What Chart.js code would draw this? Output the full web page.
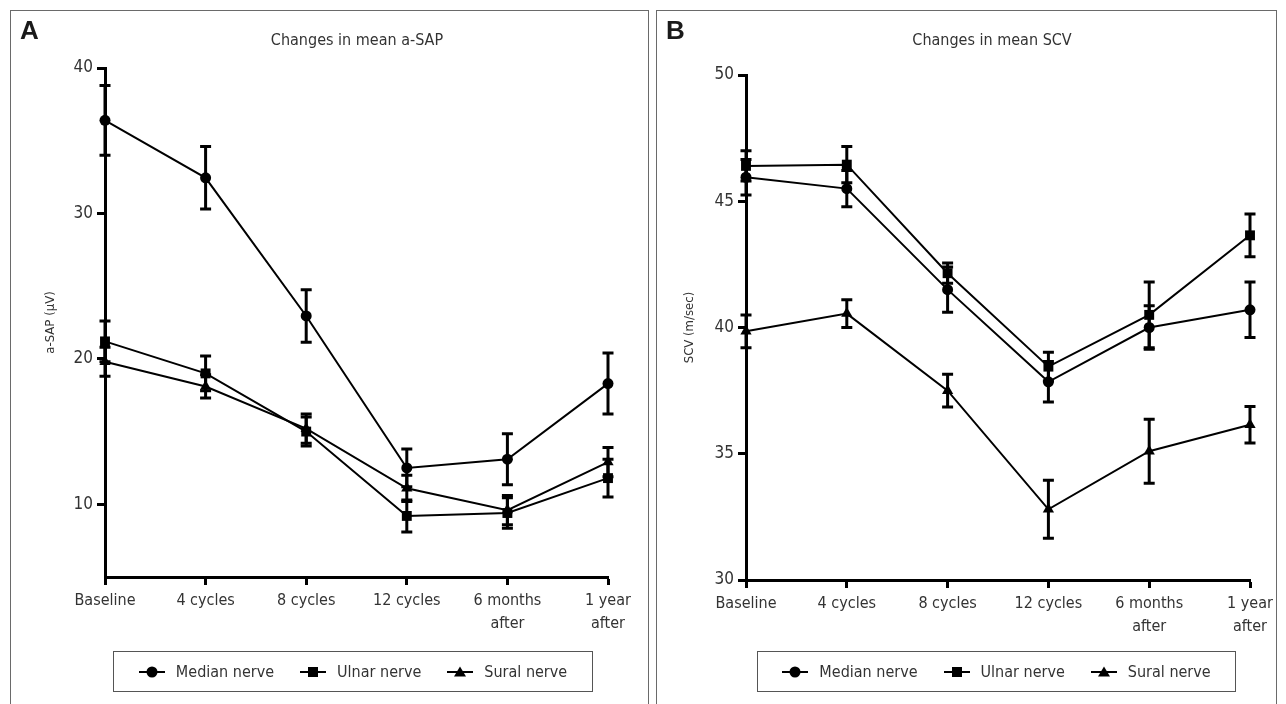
<!DOCTYPE html>
<html><head><meta charset="utf-8">
<script src="https://cdn.jsdelivr.net/npm/chart.js@4.4.0/dist/chart.umd.min.js"></script>
<style>
html,body{margin:0;padding:0;background:#fff;}
body{width:1286px;height:704px;position:relative;overflow:hidden;font-family:"DejaVu Sans Condensed","Liberation Sans",sans-serif;color:#333;}
.panel{position:absolute;top:10px;height:720px;border:1px solid #6a6a6a;box-sizing:border-box;pointer-events:none;}
#boxA{left:10px;width:639px;}
#boxB{left:656px;width:621px;}
.letter{position:absolute;font:bold 26px "Liberation Sans",Arial,sans-serif;line-height:1;color:#1a1a1a;}
.title{position:absolute;font-size:16px;line-height:1;color:#333;white-space:nowrap;transform:translateX(-50%);}
.cw{position:absolute;top:0;height:704px;}
.legend{position:absolute;top:651px;height:41px;border:1px solid #555;box-sizing:border-box;display:flex;align-items:center;justify-content:center;font-size:16px;color:#333;background:#fff;white-space:nowrap;}
.item{display:flex;align-items:center;margin:0 13px;white-space:nowrap;}
.item svg{margin-right:11px;}
</style></head>
<body>
<div class="cw" style="left:0;width:648px;"><canvas id="cA" width="648" height="704"></canvas></div>
<div class="cw" style="left:656px;width:630px;"><canvas id="cB" width="630" height="704"></canvas></div>
<div class="panel" id="boxA"></div>
<div class="panel" id="boxB"></div>
<div class="letter" style="left:20px;top:17px;">A</div>
<div class="letter" style="left:666px;top:17px;">B</div>
<div class="title" id="tA" style="left:357px;top:32px;"></div>
<div class="title" id="tB" style="left:992px;top:32px;"></div>
<div class="legend" id="lA" style="left:113px;width:480px;"></div>
<div class="legend" id="lB" style="left:757px;width:479px;"></div>
<script>
// ---------- data ----------
const categories = ['Baseline', '4 cycles', '8 cycles', '12 cycles', ['6 months', 'after'], ['1 year', 'after']];
const seriesNames = ['Median nerve', 'Ulnar nerve', 'Sural nerve'];
const markerStyles = ['circle', 'rect', 'triangle'];

const sapMedian    = [36.4, 32.45, 22.95, 12.5, 13.1, 18.3];
const sapMedianErr = [2.4, 2.15, 1.8, 1.3, 1.75, 2.1];
const sapUlnar     = [21.2, 19.0, 15.0, 9.2, 9.4, 11.8];
const sapUlnarErr  = [1.4, 1.2, 1.0, 1.1, 1.05, 1.3];
const sapSural     = [19.8, 18.1, 15.2, 11.1, 9.6, 12.9];
const sapSuralErr  = [1.0, 0.8, 1.0, 0.9, 1.0, 1.0];

const scvMedian    = [45.95, 45.5, 41.5, 37.85, 40.0, 40.7];
const scvMedianErr = [0.7, 0.72, 0.9, 0.8, 0.86, 1.1];
const scvUlnar     = [46.4, 46.45, 42.15, 38.45, 40.5, 43.65];
const scvUlnarErr  = [0.6, 0.72, 0.4, 0.57, 1.3, 0.85];
const scvSural     = [39.85, 40.55, 37.5, 32.8, 35.1, 36.15];
const scvSuralErr  = [0.65, 0.55, 0.65, 1.15, 1.27, 0.72];

const sapTicks = [10, 20, 30, 40];
const scvTicks = [30, 35, 40, 45, 50];

const titleA = 'Changes in mean a-SAP';
const titleB = 'Changes in mean SCV';
const yTitleA = 'a-SAP (\u03bcV)';
const yTitleB = 'SCV (m/sec)';
// ---------------------------

const FONT = '"DejaVu Sans Condensed","Liberation Sans",sans-serif';
document.getElementById('tA').textContent = titleA;
document.getElementById('tB').textContent = titleB;

const errorBars = {
  id: 'errorBars',
  afterDatasetsDraw(chart) {
    const ctx = chart.ctx, ys = chart.scales.y;
    chart.data.datasets.forEach((ds, di) => {
      const meta = chart.getDatasetMeta(di);
      meta.data.forEach((pt, i) => {
        const v = ds.data[i], e = ds.errors[i];
        const t = ys.getPixelForValue(v + e), b = ys.getPixelForValue(v - e);
        ctx.save();
        ctx.strokeStyle = '#000'; ctx.lineWidth = 3; ctx.lineCap = 'butt';
        ctx.beginPath();
        ctx.moveTo(pt.x, t); ctx.lineTo(pt.x, b);
        ctx.moveTo(pt.x - 5.5, t); ctx.lineTo(pt.x + 5.5, t);
        ctx.moveTo(pt.x - 5.5, b); ctx.lineTo(pt.x + 5.5, b);
        ctx.stroke();
        ctx.restore();
      });
    });
  }
};

function mkDs(name, data, errs, style) {
  const r = style === 'circle' ? 5.5 : (style === 'rect' ? 7 : 6.5);
  return {
    label: name, data: data, errors: errs,
    borderColor: '#000', backgroundColor: '#000', borderWidth: 2,
    pointStyle: style, pointRadius: r, pointBorderWidth: 0,
    pointBackgroundColor: '#000', pointBorderColor: '#000',
    tension: 0, clip: false, fill: false
  };
}

function makeChart(id, series, errs, cfg) {
  const grid = { display: true, drawOnChartArea: false, drawTicks: true, tickLength: 8, tickWidth: 3, tickColor: '#000' };
  const border = { display: true, color: '#000', width: 3 };
  return new Chart(document.getElementById(id), {
    type: 'line',
    data: {
      labels: categories,
      datasets: series.map((s, k) => mkDs(seriesNames[k], s, errs[k], markerStyles[k]))
    },
    options: {
      responsive: false, animation: false, devicePixelRatio: 1,
      layout: { padding: { left: 0, right: cfg.padRight, top: cfg.top, bottom: 0 } },
      plugins: { legend: { display: false }, tooltip: { enabled: false }, title: { display: false } },
      scales: {
        x: {
          type: 'category', offset: false, grid: grid, border: border,
          ticks: { color: '#333', font: { family: FONT, size: 16, lineHeight: 1.4 }, padding: 5, maxRotation: 0, autoSkip: false },
          afterFit(s) { s.height = cfg.xHeight; }
        },
        y: {
          type: 'linear', min: cfg.min, max: cfg.max, grid: grid, border: border,
          afterBuildTicks(s) { s.ticks = cfg.ticks.map(v => ({ value: v })); },
          ticks: { color: '#333', font: { family: FONT, size: 17 }, padding: 4 },
          title: { display: true, text: cfg.yTitle, color: '#333', font: { family: FONT, size: 13 }, padding: { top: cfg.yTitlePad, bottom: 0 } },
          afterFit(s) { s.width = cfg.yWidth; }
        }
      }
    },
    plugins: [errorBars]
  });
}

makeChart('cA', [sapMedian, sapUlnar, sapSural], [sapMedianErr, sapUlnarErr, sapSuralErr],
  { min: 5, max: 40, ticks: sapTicks, top: 68, xHeight: 127, yWidth: 105, padRight: 40, yTitle: yTitleA, yTitlePad: 43 });
makeChart('cB', [scvMedian, scvUlnar, scvSural], [scvMedianErr, scvUlnarErr, scvSuralErr],
  { min: 30, max: 50, ticks: scvTicks, top: 75, xHeight: 124, yWidth: 90, padRight: 36, yTitle: yTitleB, yTitlePad: 26 });

function icon(style) {
  let m;
  if (style === 'circle') m = '<circle cx="13" cy="7" r="5.5" fill="#000"/>';
  else if (style === 'rect') m = '<rect x="8" y="2" width="10" height="10" fill="#000"/>';
  else m = '<polygon points="13,1.5 19,11.5 7,11.5" fill="#000"/>';
  return '<svg width="26" height="14" viewBox="0 0 26 14"><line x1="0" y1="7" x2="26" y2="7" stroke="#000" stroke-width="2"/>' + m + '</svg>';
}
['lA', 'lB'].forEach(id => {
  const el = document.getElementById(id);
  seriesNames.forEach((n, k) => {
    const it = document.createElement('div');
    it.className = 'item';
    it.innerHTML = icon(markerStyles[k]) + '<span></span>';
    it.querySelector('span').textContent = n;
    el.appendChild(it);
  });
});
</script>
</body></html>
